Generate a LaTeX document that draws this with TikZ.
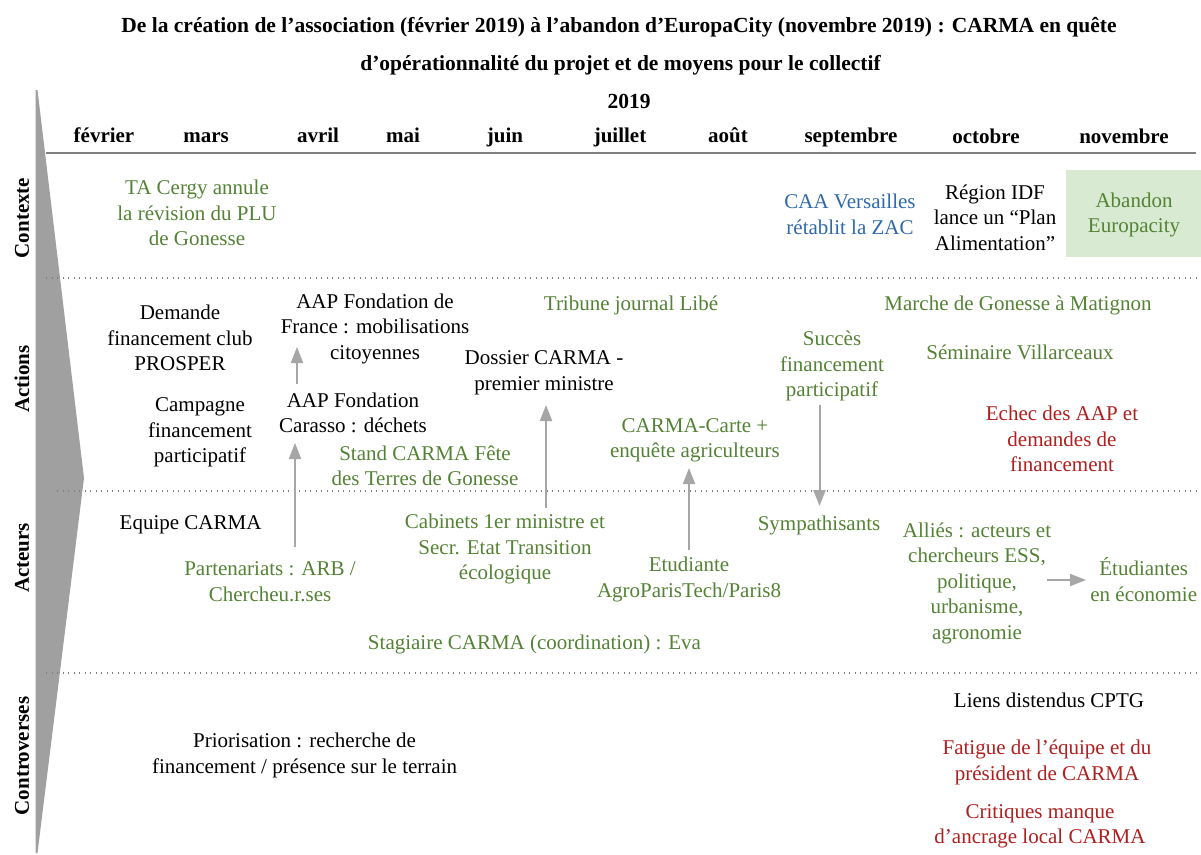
\documentclass[tikz,border=0pt]{standalone}
\usepackage{fontspec}
\setmainfont{Liberation Serif}
\usetikzlibrary{arrows.meta,calc}
\definecolor{cgreen}{HTML}{548235}
\definecolor{cred}{HTML}{B01E1E}
\definecolor{cblue}{HTML}{2E6AAB}
\definecolor{carrowgray}{HTML}{A6A6A6}
\definecolor{cbiggray}{HTML}{A0A0A0}
\definecolor{crule}{HTML}{808080}
\definecolor{cbox}{HTML}{D9EAD3}
\begin{document}
\begin{tikzpicture}[x=1pt,y=-1pt]
\tikzset{
  lbl/.style={align=center, inner sep=0pt, font=\fontsize{21}{25.5}\selectfont},
  gtxt/.style={lbl, text=cgreen},
  rtxt/.style={lbl, text=cred},
  btxt/.style={lbl, text=cblue},
  ktxt/.style={lbl, text=black},
  titletxt/.style={inner sep=0pt, font=\fontsize{21.5}{25}\selectfont\bfseries},
  month/.style={inner sep=0pt, anchor=base, font=\fontsize{21}{25}\selectfont\bfseries},
  side/.style={inner sep=0pt, rotate=90, font=\fontsize{21}{25}\selectfont\bfseries},
  sepline/.style={draw=crule, line width=1.3pt, dash pattern=on 1.3pt off 4.2pt},
  garrow/.style={draw=carrowgray, line width=2pt, -{Triangle[width=12pt,length=16pt]}},
}
\useasboundingbox (0,0) rectangle (1201,854);

% big side arrow
\fill[cbiggray] (35.5,90) -- (37.5,90) -- (84,478) -- (37.5,853) -- (35.5,853) -- cycle;

% rules
\draw[crule, line width=2pt] (46,153) -- (1196,153);
\draw[sepline] (46,278) -- (1198,278);
\draw[sepline] (57,491) -- (1198,491);
\draw[sepline] (46,673) -- (1198,673);

% title
\node[titletxt] (title1) at (619,27) {De la création de l’association (février 2019) à l’abandon d’EuropaCity (novembre 2019) : CARMA en quête};
\node[titletxt] (title2) at (620.5,65) {d’opérationnalité du projet et de moyens pour le collectif};
\node[titletxt] (year) at (629,101) {2019};

% months
\node[month] (m2) at (104,142) {février};
\node[month] (m3) at (206,142) {mars};
\node[month] (m4) at (318,142) {avril};
\node[month] (m5) at (403,142) {mai};
\node[month] (m6) at (505,142) {juin};
\node[month] (m7) at (620,142) {juillet};
\node[month] (m8) at (728,142) {août};
\node[month] (m9) at (851,142) {septembre};
\node[month] (m10) at (986,143) {octobre};
\node[month] (m11) at (1124,143) {novembre};

% side labels
\node[side] (scontexte) at (22,218) {Contexte};
\node[side] (sactions) at (22,379) {Actions};
\node[side] (sacteurs) at (22,558) {Acteurs};
\node[side] (scontro) at (22,756) {Controverses};

% Contexte
\node[gtxt] (cergy) at (197,213) {TA Cergy annule\\la révision du PLU\\de Gonesse};
\node[btxt] (caa) at (850,214.5) {CAA Versailles\\rétablit la ZAC};
\node[ktxt] (region) at (995,217.5) {Région IDF\\lance un “Plan\\Alimentation”};
\fill[cbox] (1066,170) rectangle (1201,257);
\node[gtxt] (abandon) at (1134,215) {Abandon\\Europacity};

% Actions
\node[ktxt] (demande) at (180,338) {Demande\\financement club\\PROSPER};
\node[ktxt] (fdf) at (375,328.5) {AAP Fondation de\\France : mobilisations\\citoyennes};
\node[gtxt] (tribune) at (631,305) {Tribune journal Libé};
\node[gtxt] (marche) at (1018,305) {Marche de Gonesse à Matignon};
\node[ktxt] (dossier) at (544,373) {Dossier CARMA -\\premier ministre};
\node[gtxt] (succes) at (832,366) {Succès\\financement\\participatif};
\node[gtxt] (seminaire) at (1020,352) {Séminaire Villarceaux};
\node[ktxt] (campagne) at (200,432.5) {Campagne\\financement\\participatif};
\node[ktxt] (carasso) at (353,413) {AAP Fondation\\Carasso : déchets};
\node[gtxt] (stand) at (425,466) {Stand CARMA Fête\\des Terres de Gonesse};
\node[gtxt] (carte) at (695,440.5) {CARMA-Carte +\\enquête agriculteurs};
\node[rtxt] (echec) at (1062,439) {Echec des AAP et\\demandes de\\financement};

% Acteurs
\node[ktxt] (equipe) at (190.6,525) {Equipe CARMA};
\node[gtxt] (part) at (270,581.5) {Partenariats : ARB /\\Chercheu.r.ses};
\node[gtxt] (cabinets) at (505,549) {Cabinets 1er ministre et\\Secr. Etat Transition\\écologique};
\node[gtxt] (etudiante) at (689,579.5) {Etudiante\\AgroParisTech/Paris8};
\node[gtxt] (sympa) at (819,525) {Sympathisants};
\node[gtxt] (allies) at (977,583) {Alliés : acteurs et\\chercheurs ESS,\\politique,\\urbanisme,\\agronomie};
\node[gtxt] (etudiantes) at (1143.7,579.5) {Étudiantes\\en économie};
\node[gtxt] (stagiaire) at (534.5,644) {Stagiaire CARMA (coordination) : Eva};

% Controverses
\node[ktxt] (prior) at (304.6,755.5) {Priorisation : recherche de\\financement / présence sur le terrain};
\node[ktxt] (liens) at (1049,700) {Liens distendus CPTG};
\node[rtxt] (fatigue) at (1047,762.5) {Fatigue de l’équipe et du\\président de CARMA};
\node[rtxt] (critiques) at (1040,826.5) {Critiques manque\\d’ancrage local CARMA};

% arrows
\draw[garrow] ($(carasso)+(-56,-29)$) -- ($(fdf)+(-78,18.5)$);
\draw[garrow] ($(part)+(25,-34.5)$) -- ($(carasso)+(-58,30)$);
\draw[garrow] ($(cabinets)+(41,-41)$) -- ($(dossier)+(2,32)$);
\draw[garrow] ($(etudiante)+(0,-29.5)$) -- ($(carte)+(-6,27.5)$);
\draw[garrow] ($(succes)+(-12.5,39)$) -- ($(sympa)+(0.5,-19)$);
\draw[garrow] ($(allies)+(70,-3)$) -- ($(etudiantes)+(-57.7,0.5)$);
\end{tikzpicture}
\end{document}
